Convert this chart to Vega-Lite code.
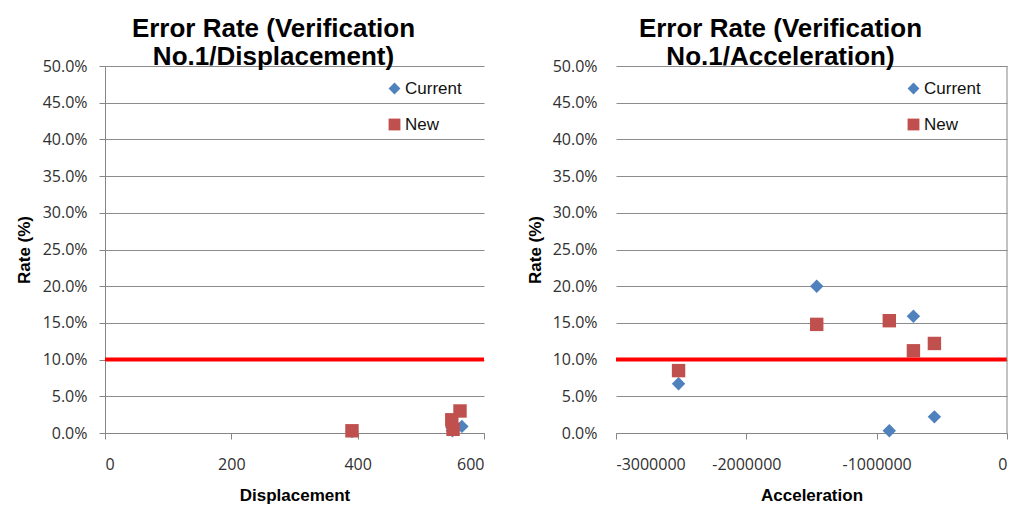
{
  "$schema": "https://vega.github.io/schema/vega-lite/v6.json",
  "background": "white",
  "padding": {"left": 15, "top": 16, "right": 5, "bottom": 5},
  "bounds": "flush",
  "spacing": 132,
  "datasets": {
    "disp": [
      {"series": "Current", "displacement": 391, "rate": 0.002},
      {"series": "Current", "displacement": 550, "rate": 0.003},
      {"series": "Current", "displacement": 549, "rate": 0.008},
      {"series": "Current", "displacement": 565, "rate": 0.009},
      {"series": "New", "displacement": 391, "rate": 0.003},
      {"series": "New", "displacement": 551, "rate": 0.005},
      {"series": "New", "displacement": 549, "rate": 0.018},
      {"series": "New", "displacement": 562, "rate": 0.030}
    ],
    "acc": [
      {"series": "Current", "acceleration": -2520000, "rate": 0.067},
      {"series": "Current", "acceleration": -1460000, "rate": 0.200},
      {"series": "Current", "acceleration": -903000, "rate": 0.003},
      {"series": "Current", "acceleration": -718000, "rate": 0.159},
      {"series": "Current", "acceleration": -557000, "rate": 0.022},
      {"series": "New", "acceleration": -2520000, "rate": 0.085},
      {"series": "New", "acceleration": -1460000, "rate": 0.148},
      {"series": "New", "acceleration": -903000, "rate": 0.153},
      {"series": "New", "acceleration": -718000, "rate": 0.112},
      {"series": "New", "acceleration": -557000, "rate": 0.122}
    ]
  },
  "resolve": {
    "scale": {"x": "independent", "y": "independent"},
    "legend": {"color": "independent", "shape": "independent"}
  },
  "config": {
    "font": "Liberation Sans",
    "view": {"stroke": null},
    "title": {"font": "Liberation Sans", "fontSize": 26, "fontWeight": "bold", "color": "#000000", "lineHeight": 28, "anchor": "middle", "offset": -12},
    "axis": {
      "labelFont": "Open Sans", "labelFontSize": 16, "labelColor": "#303030", "labelOverlap": false,
      "titleFont": "Liberation Sans", "titleFontSize": 17, "titleFontWeight": "bold", "titleColor": "#000000",
      "domainColor": "#868686", "tickColor": "#868686", "gridColor": "#8c8c8c", "tickSize": 6
    },
    "legend": {"labelFont": "Liberation Sans", "labelFontSize": 17, "labelColor": "#111111", "symbolSize": 140, "rowPadding": 18, "labelOffset": 2, "symbolStrokeWidth": 0}
  },
  "hconcat": [
    {
      "width": 379,
      "height": 367,
      "title": {"text": ["Error Rate (Verification", "No.1/Displacement)"], "dx": -21},
      "layer": [
        {
          "data": {"name": "disp"},
          "mark": {"type": "point", "filled": true, "size": 180, "opacity": 1},
          "encoding": {
            "x": {"field": "displacement", "type": "quantitative",
              "scale": {"domain": [0, 600], "nice": false, "zero": false},
              "axis": {"values": [0, 200, 400, 600], "title": "Displacement", "grid": false, "labelPadding": 17, "titlePadding": 15}},
            "y": {"field": "rate", "type": "quantitative",
              "scale": {"domain": [0, 0.5], "nice": false},
              "axis": {"format": ".1%", "values": [0, 0.05, 0.1, 0.15, 0.2, 0.25, 0.3, 0.35, 0.4, 0.45, 0.5], "tickCount": 11, "title": "Rate (%)", "grid": true, "labelPadding": 12, "titlePadding": 9}},
            "color": {"field": "series", "type": "nominal",
              "scale": {"domain": ["Current", "New"], "range": ["#4F81BD", "#C0504D"]},
              "legend": {"orient": "none", "legendX": 281, "legendY": 14, "title": null}},
            "shape": {"field": "series", "type": "nominal",
              "scale": {"domain": ["Current", "New"], "range": ["diamond", "square"]},
              "legend": {"orient": "none", "legendX": 281, "legendY": 14, "title": null}}
          }
        },
        {
          "data": {"values": [{}]},
          "mark": {"type": "rule", "color": "#FF0000", "strokeWidth": 4},
          "encoding": {"y": {"datum": 0.1, "type": "quantitative",
            "axis": {"format": ".1%", "values": [0, 0.05, 0.1, 0.15, 0.2, 0.25, 0.3, 0.35, 0.4, 0.45, 0.5], "tickCount": 11, "title": "Rate (%)", "grid": true, "labelPadding": 12, "titlePadding": 9}}}
        }
      ]
    },
    {
      "width": 391,
      "height": 367,
      "title": {"text": ["Error Rate (Verification", "No.1/Acceleration)"], "dx": -31},
      "layer": [
        {
          "data": {"name": "acc"},
          "mark": {"type": "point", "filled": true, "size": 180, "opacity": 1},
          "encoding": {
            "x": {"field": "acceleration", "type": "quantitative",
              "scale": {"domain": [-3000000, 0], "nice": false},
              "axis": {"values": [-3000000, -2000000, -1000000, 0], "labelExpr": "'' + datum.value", "title": "Acceleration", "grid": false, "labelPadding": 17, "titlePadding": 15}},
            "y": {"field": "rate", "type": "quantitative",
              "scale": {"domain": [0, 0.5], "nice": false},
              "axis": {"format": ".1%", "values": [0, 0.05, 0.1, 0.15, 0.2, 0.25, 0.3, 0.35, 0.4, 0.45, 0.5], "tickCount": 11, "title": "Rate (%)", "grid": true, "domain": false, "ticks": false, "labelPadding": 19, "titlePadding": 8}},
            "color": {"field": "series", "type": "nominal",
              "scale": {"domain": ["Current", "New"], "range": ["#4F81BD", "#C0504D"]},
              "legend": {"orient": "none", "legendX": 289, "legendY": 14, "title": null}},
            "shape": {"field": "series", "type": "nominal",
              "scale": {"domain": ["Current", "New"], "range": ["diamond", "square"]},
              "legend": {"orient": "none", "legendX": 289, "legendY": 14, "title": null}}
          }
        },
        {
          "data": {"values": [{}]},
          "mark": {"type": "rule", "color": "#FF0000", "strokeWidth": 4},
          "encoding": {"y": {"datum": 0.1, "type": "quantitative",
            "axis": {"format": ".1%", "values": [0, 0.05, 0.1, 0.15, 0.2, 0.25, 0.3, 0.35, 0.4, 0.45, 0.5], "tickCount": 11, "title": "Rate (%)", "grid": true, "domain": false, "ticks": false, "labelPadding": 19, "titlePadding": 8}}}
        },
        {
          "data": {"values": [{}]},
          "mark": {"type": "rule", "color": "#868686", "strokeWidth": 1},
          "encoding": {"x": {"datum": 0, "type": "quantitative"}}
        }
      ]
    }
  ]
}
